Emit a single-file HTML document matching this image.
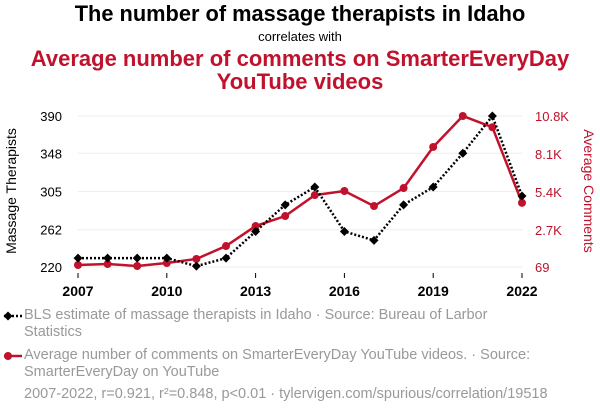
<!DOCTYPE html>
<html><head><meta charset="utf-8"><style>
body{margin:0;background:#fff;font-family:"Liberation Sans",sans-serif;}
#wrap{position:relative;width:600px;height:414px;overflow:hidden;}
.t{position:absolute;left:0;width:600px;text-align:center;}
.leg{position:absolute;left:24px;font-size:14.5px;color:#999;line-height:17px;white-space:nowrap;}
</style></head><body>
<div id="wrap">
<div class="t" style="top:1px;font-size:21.8px;font-weight:bold;color:#000">The number of massage therapists in Idaho</div>
<div class="t" style="top:29px;font-size:13px;color:#000">correlates with</div>
<div class="t" style="top:47px;font-size:22px;font-weight:bold;color:#c0122c;line-height:23px">Average number of comments on SmarterEveryDay<br>YouTube videos</div>
<svg id="svg" width="600" height="414" style="position:absolute;left:0;top:0"></svg>
<div class="leg" style="top:307px">BLS estimate of massage therapists in Idaho · Source: Bureau of Larbor<br>Statistics</div>
<div class="leg" style="top:347px">Average number of comments on SmarterEveryDay YouTube videos. · Source:<br>SmarterEveryDay on YouTube</div>
<div class="leg" style="top:386px;left:24px">2007-2022, r=0.921, r²=0.848, p&lt;0.01 · tylervigen.com/spurious/correlation/19518</div>
</div>
<script>
const years=[2007,2008,2009,2010,2011,2012,2013,2014,2015,2016,2017,2018,2019,2020,2021,2022];
const therapists=[230,230,230,230,221,230,260,290,310,260,250,290,310,348,390,300];
const comments=[211,280,140,350,640,1560,2980,3690,5180,5470,4400,5680,8600,10800,10000,4630];
const xTicks=[2007,2010,2013,2016,2019,2022];
const leftTicks=[220,262,305,348,390];
const rightTicks=[69,2700,5400,8100,10800];
const rightLabels=["69","2.7K","5.4K","8.1K","10.8K"];
const NS="http://www.w3.org/2000/svg";
const svg=document.getElementById('svg');
const X=y=>78+(y-2007)*(522-78)/15;
const YL=v=>267-(v-220)*(151/170);
const YR=v=>267-(v-69)*(151/(10800-69));
function mk(t,a){const e=document.createElementNS(NS,t);for(const k in a)e.setAttribute(k,a[k]);svg.appendChild(e);return e;}
leftTicks.forEach((v,i)=>{
 const g=mk('line',{x1:78,x2:522,y1:YL(v),y2:YL(v),stroke:'#eee'});
 
 
 const t=mk('text',{x:62,y:YL(v)+5,'text-anchor':'end','font-size':13,fill:'#000'});t.textContent=v;
 
 
});
rightTicks.forEach((v,i)=>{
 const t=mk('text',{x:535,y:YR(v)+5,'font-size':13,fill:'#c0122c'});t.textContent=rightLabels[i];
 
 
});
xTicks.forEach(v=>{
 mk('line',{x1:X(v),x2:X(v),y1:273,y2:278,stroke:'#000'});
 const t=mk('text',{x:X(v),y:296,'text-anchor':'middle','font-size':14,'font-weight':'bold',fill:'#000'});t.textContent=v;
 
 
});
let yl=mk('text',{x:16,y:191,transform:'rotate(-90 16 191)','text-anchor':'middle','font-size':14,fill:'#000'});yl.textContent='Massage Therapists';


let yr=mk('text',{x:584,y:191,transform:'rotate(90 584 191)','text-anchor':'middle','font-size':14,fill:'#c0122c'});yr.textContent='Average Comments';


const rl=mk('polyline',{points:years.map((y,i)=>X(y)+','+YR(comments[i])).join(' '),fill:'none',stroke:'#c0122c','stroke-width':2.5});


years.forEach((y,i)=>{const c=mk('circle',{cx:X(y),cy:YR(comments[i]),r:4,fill:'#c0122c'});
 
 });
const bl=mk('polyline',{points:years.map((y,i)=>X(y)+','+YL(therapists[i])).join(' '),fill:'none',stroke:'#000','stroke-width':2.5,'stroke-dasharray':'2,2'});


years.forEach((y,i)=>{const cx=X(y),cy=YL(therapists[i]);
 const d=mk('polygon',{points:`${cx},${cy-4.5} ${cx+4.5},${cy} ${cx},${cy+4.5} ${cx-4.5},${cy}`,fill:'#000'});
 
 });
mk('line',{x1:4,x2:22,y1:316,y2:316,stroke:'#000','stroke-width':2.5,'stroke-dasharray':'2,2'});
mk('polygon',{points:'8,311.5 12.5,316 8,320.5 3.5,316',fill:'#000'});
mk('line',{x1:4,x2:22,y1:356,y2:356,stroke:'#c0122c','stroke-width':2.5});
mk('circle',{cx:8,cy:356,r:4,fill:'#c0122c'});
</script>
</body></html>
